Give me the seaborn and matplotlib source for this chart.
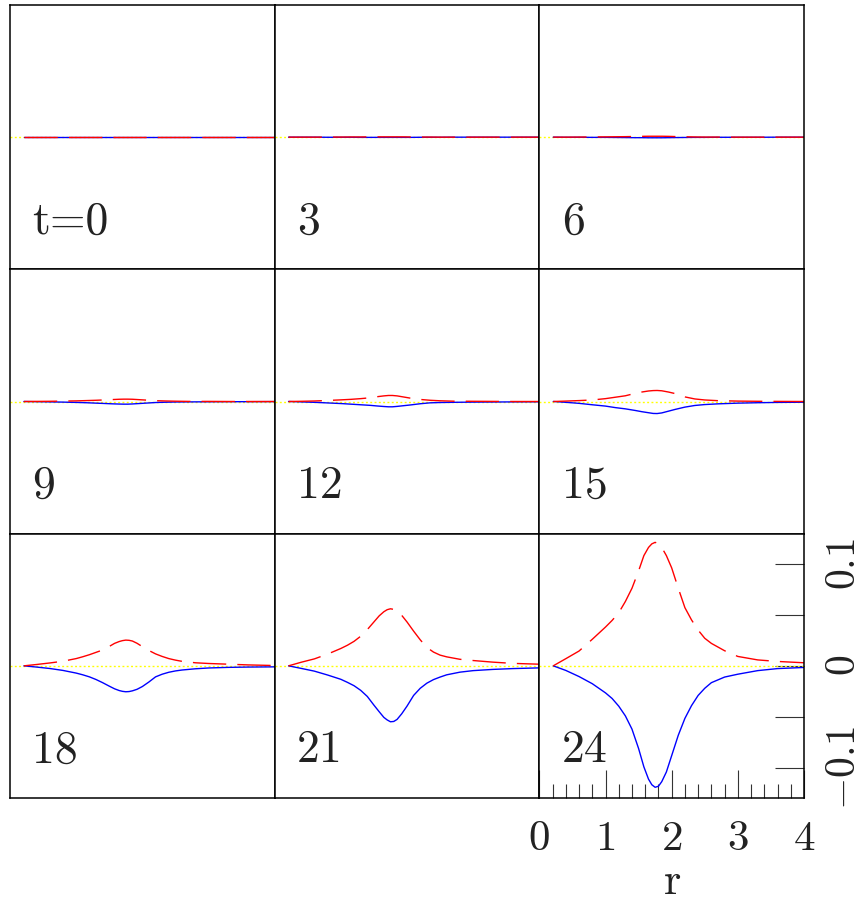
import numpy as np
import pandas as pd
import matplotlib
matplotlib.use("Agg")
import matplotlib.pyplot as plt
import seaborn as sns
from matplotlib.ticker import FixedLocator

sns.set_style("white")
plt.rcParams["mathtext.fontset"] = "cm"
plt.rcParams["font.family"] = ["DejaVu Serif"]

# ---------------- data ----------------
PANEL_LABELS = ["t=0", "3", "6", "9", "12", "15", "18", "21", "24"]

# coarse radial grid (small-amplitude panels)
R_GRID = [0.21, 0.4, 0.6, 0.8, 1.0, 1.15, 1.3, 1.45, 1.55, 1.65, 1.72, 1.78,
          1.85, 1.95, 2.05, 2.2, 2.35, 2.5, 2.7, 3.0, 3.3, 3.6, 4.0]

RED_T0 = [0.0] * 23
BLUE_T0 = [0.0] * 23
RED_T3 = [0, 0, 0, 0.0001, 0.0001, 0.0002, 0.0002, 0.0003, 0.0003, 0.0003, 0.0003, 0.0003,
          0.0003, 0.0003, 0.0002, 0.0001, 0.0001, 0, 0, 0, 0, 0, 0]
BLUE_T3 = [0, 0, 0, -0.0001, -0.0001, -0.0001, -0.0002, -0.0002, -0.0002, -0.0002, -0.0002, -0.0002,
           -0.0002, -0.0002, -0.0002, -0.0001, -0.0001, -0.0001, 0, 0, 0, 0, 0]
RED_T6 = [0, 0, 0.0001, 0.0002, 0.0003, 0.0004, 0.0005, 0.0007, 0.0008, 0.0009, 0.0009, 0.0009,
          0.0009, 0.0008, 0.0006, 0.0004, 0.0002, 0.0001, 0.0001, 0, 0, 0, 0]
BLUE_T6 = [0, -0.0001, -0.0001, -0.0002, -0.0002, -0.0003, -0.0004, -0.0005, -0.0005, -0.0006, -0.0006, -0.0006,
           -0.0006, -0.0005, -0.0004, -0.0003, -0.0002, -0.0002, -0.0001, -0.0001, -0.0001, 0, 0]
RED_T9 = [0, 0.0001, 0.0002, 0.0004, 0.0006, 0.0009, 0.0012, 0.0016, 0.0019, 0.0022, 0.0023, 0.0023,
          0.0022, 0.0018, 0.0014, 0.0008, 0.0005, 0.0003, 0.0001, 0.0001, 0, 0, 0]
BLUE_T9 = [0, -0.0002, -0.0004, -0.0006, -0.0009, -0.0012, -0.0016, -0.002, -0.0023, -0.0025, -0.0026, -0.0026,
           -0.0024, -0.002, -0.0016, -0.001, -0.0007, -0.0005, -0.0004, -0.0003, -0.0002, -0.0002, -0.0001]
RED_T12 = [0, 0.0002, 0.0005, 0.001, 0.0016, 0.0021, 0.0028, 0.0037, 0.0047, 0.0055, 0.0059, 0.0059,
           0.0055, 0.0044, 0.0033, 0.002, 0.0012, 0.0007, 0.0003, 0.0002, 0.0001, 0, 0]
BLUE_T12 = [0, -0.0004, -0.0008, -0.0014, -0.002, -0.0026, -0.0032, -0.0038, -0.0044, -0.0049, -0.0052, -0.0052,
            -0.0048, -0.0041, -0.0034, -0.0022, -0.0013, -0.001, -0.0008, -0.0006, -0.0005, -0.0004, -0.0003]
RED_T15 = [0, 0.0004, 0.0009, 0.0015, 0.0028, 0.0042, 0.0056, 0.008, 0.0093, 0.0103, 0.0107, 0.0108,
           0.0105, 0.0093, 0.0078, 0.0045, 0.0025, 0.0015, 0.0008, 0.0004, 0.0002, 0.0001, 0]
BLUE_T15 = [0, -0.0008, -0.0018, -0.0032, -0.0045, -0.006, -0.0072, -0.0088, -0.01, -0.011, -0.0117, -0.0118,
            -0.0112, -0.0095, -0.0078, -0.0055, -0.0039, -0.003, -0.0023, -0.0016, -0.0012, -0.0009, -0.0007]

# finer radial grid (large-amplitude panels)
R_FINE = [0.21, 0.4, 0.6, 0.8, 1.0, 1.1, 1.2, 1.3, 1.4, 1.5, 1.58, 1.65, 1.7, 1.75, 1.8,
          1.85, 1.92, 2.0, 2.1, 2.2, 2.3, 2.4, 2.5, 2.6, 2.8, 3.0, 3.3, 3.6, 4.0]

RED_T18 = [0, 0.0013, 0.0028, 0.0045, 0.0071, 0.0089, 0.0109, 0.0132, 0.0155, 0.019, 0.022, 0.0238,
           0.0247, 0.0252, 0.025, 0.0243, 0.0221, 0.0188, 0.015, 0.0117, 0.0092, 0.0071, 0.0056,
           0.0044, 0.003, 0.0023, 0.0016, 0.0009, 0.0003]
BLUE_T18 = [0, -0.0012, -0.0026, -0.0045, -0.0071, -0.0088, -0.0108, -0.0134, -0.0165, -0.0199, -0.0225,
            -0.0242, -0.025, -0.0254, -0.0252, -0.0245, -0.023, -0.0203, -0.0158, -0.0108, -0.0082,
            -0.0063, -0.005, -0.0041, -0.0029, -0.0021, -0.0015, -0.0012, -0.001]
RED_T21 = [0, 0.0035, 0.0068, 0.0115, 0.017, 0.0202, 0.024, 0.029, 0.0355, 0.043, 0.049, 0.053,
           0.055, 0.0559, 0.0553, 0.054, 0.0495, 0.043, 0.034, 0.0255, 0.018, 0.0135, 0.0105,
           0.0088, 0.0064, 0.0052, 0.0036, 0.0024, 0.0016]
BLUE_T21 = [0, -0.0025, -0.0052, -0.009, -0.0132, -0.0162, -0.0195, -0.024, -0.03, -0.0385, -0.045,
            -0.0505, -0.053, -0.0548, -0.0545, -0.0525, -0.047, -0.0395, -0.029, -0.022, -0.017,
            -0.0135, -0.011, -0.0088, -0.0062, -0.0047, -0.0035, -0.0027, -0.002]
RED_T24 = [0, 0.007, 0.0145, 0.026, 0.038, 0.0445, 0.052, 0.063, 0.076, 0.093, 0.108, 0.116,
           0.1195, 0.121, 0.1195, 0.116, 0.108, 0.096, 0.076, 0.057, 0.045, 0.035, 0.027,
           0.022, 0.0148, 0.0092, 0.0058, 0.0043, 0.003]
BLUE_T24 = [0, -0.0045, -0.0105, -0.0175, -0.0265, -0.032, -0.0395, -0.049, -0.062, -0.081, -0.099,
            -0.111, -0.1165, -0.119, -0.118, -0.1135, -0.104, -0.088, -0.068, -0.0515, -0.039,
            -0.029, -0.022, -0.0165, -0.011, -0.0082, -0.0047, -0.0027, -0.0016]

RED_SERIES = [RED_T0, RED_T3, RED_T6, RED_T9, RED_T12, RED_T15, RED_T18, RED_T21, RED_T24]
BLUE_SERIES = [BLUE_T0, BLUE_T3, BLUE_T6, BLUE_T9, BLUE_T12, BLUE_T15, BLUE_T18, BLUE_T21, BLUE_T24]
R_SERIES = [R_GRID] * 6 + [R_FINE] * 3

ZERO_R = [0.0, 4.0]
ZERO_V = [0.0, 0.0]

X_TICKS = [0, 1, 2, 3, 4]
X_TICK_LABELS = ["0", "1", "2", "3", "4"]
X_MINOR = [0.2, 0.4, 0.6, 0.8, 1.2, 1.4, 1.6, 1.8, 2.2, 2.4, 2.6, 2.8, 3.2, 3.4, 3.6, 3.8]
Y_TICKS = [-0.1, 0.0, 0.1]
Y_TICK_LABELS = [r"$-0.1$", r"$0$", r"$0.1$"]
Y_MINOR = [-0.05, 0.05]

# ---------------- figure ----------------
fig = plt.figure(figsize=(8.63, 9.01), dpi=100)
gs = fig.add_gridspec(3, 3, left=10 / 863, right=804 / 863,
                      top=1 - 5 / 901, bottom=1 - 798 / 901, wspace=0, hspace=0)

for i in range(9):
    row, col = divmod(i, 3)
    ax = fig.add_subplot(gs[row, col])
    zero_df = pd.DataFrame({"r": ZERO_R, "v": ZERO_V})
    sns.lineplot(data=zero_df, x="r", y="v", ax=ax, color="#ffff00", lw=1.0,
                 estimator=None, sort=False)
    ax.lines[-1].set_dashes([1.4, 1.7])
    df = pd.DataFrame({"r": R_SERIES[i], "red": RED_SERIES[i], "blue": BLUE_SERIES[i]})
    sns.lineplot(data=df, x="r", y="blue", ax=ax, color="#0000ff", lw=1.0,
                 estimator=None, sort=False)
    sns.lineplot(data=df, x="r", y="red", ax=ax, color="#ff0000", lw=1.0,
                 estimator=None, sort=False)
    ax.lines[-1].set_dashes([24, 8])

    ax.set_xlim(0, 4)
    ax.set_ylim(-0.1295, 0.1295)
    ax.set_xlabel("")
    ax.set_ylabel("")
    for sp in ax.spines.values():
        sp.set_linewidth(1.1)
        sp.set_color("black")
        sp.set_visible(True)
    ax.text(0.085, 0.135, PANEL_LABELS[i], transform=ax.transAxes, family="cmr10",
            fontsize=33, ha="left", va="baseline", color="#222222")

    if i == 8:
        ax.xaxis.set_major_locator(FixedLocator(X_TICKS))
        ax.set_xticklabels([r"$" + s + "$" for s in X_TICK_LABELS])
        ax.xaxis.set_minor_locator(FixedLocator(X_MINOR))
        ax.tick_params(axis="x", which="major", direction="in", length=20, width=0.8,
                       pad=14, labelsize=31, bottom=True, top=False, colors="#333333",
                       labelcolor="#222222")
        ax.tick_params(axis="x", which="minor", direction="in", length=10, width=0.8,
                       bottom=True, top=False, colors="#333333")
        ax.yaxis.tick_right()
        ax.yaxis.set_major_locator(FixedLocator(Y_TICKS))
        ax.set_yticklabels(Y_TICK_LABELS, rotation=90, va="center")
        ax.yaxis.set_minor_locator(FixedLocator(Y_MINOR))
        ax.tick_params(axis="y", which="major", direction="in", length=21, width=0.8,
                       pad=13, labelsize=30, right=True, left=False, colors="#333333",
                       labelcolor="#222222")
        ax.tick_params(axis="y", which="minor", direction="in", length=21, width=0.8,
                       right=True, left=False, colors="#333333")
        ax.set_xlabel(r"$\mathrm{r}$", fontsize=32, labelpad=0, color="#222222")
    else:
        ax.set_xticks([])
        ax.set_yticks([])

fig.savefig("out.png", dpi=100)
